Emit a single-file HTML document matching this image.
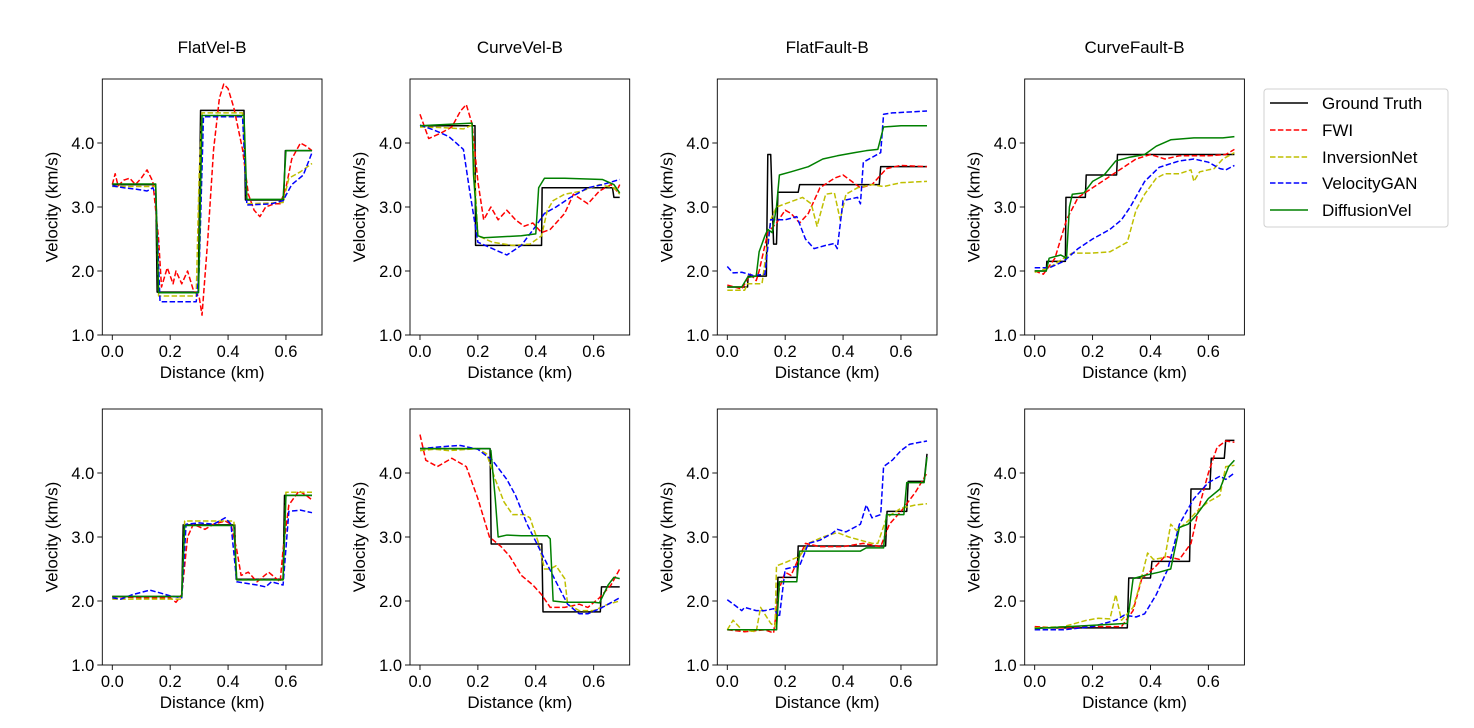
<!DOCTYPE html>
<html><head><meta charset="utf-8"><style>
body{margin:0;background:#fff;}
svg{display:block;font-family:"Liberation Sans","DejaVu Sans",sans-serif;}
</style></head><body>
<svg id="fig" width="1474" height="728" viewBox="0 0 1474 728" xmlns="http://www.w3.org/2000/svg">
<rect width="1474" height="728" fill="#fff"/>
<g id="legend">
<rect x="1264" y="89" width="184" height="138" rx="3" fill="#fff" stroke="#d0d0d0"/>
<line x1="1270" y1="103" x2="1308" y2="103" stroke="#000" stroke-width="1.5"/>
<text x="1322" y="109" font-size="17">Ground Truth</text>
<line x1="1270" y1="130" x2="1308" y2="130" stroke="#ff0000" stroke-width="1.5" stroke-dasharray="5.5,2.4"/>
<text x="1322" y="136" font-size="17">FWI</text>
<line x1="1270" y1="157" x2="1308" y2="157" stroke="#bfbf00" stroke-width="1.5" stroke-dasharray="5.5,2.4"/>
<text x="1322" y="163" font-size="17">InversionNet</text>
<line x1="1270" y1="183" x2="1308" y2="183" stroke="#0000ff" stroke-width="1.5" stroke-dasharray="5.5,2.4"/>
<text x="1322" y="189" font-size="17">VelocityGAN</text>
<line x1="1270" y1="210" x2="1308" y2="210" stroke="#008000" stroke-width="1.5"/>
<text x="1322" y="216" font-size="17">DiffusionVel</text>
</g>
</svg>
<script>
// ---- data (x in km, y in km/s) ----
const XTICKS = [0.0, 0.2, 0.4, 0.6];
const YTICKS = [1.0, 2.0, 3.0, 4.0];
const TITLES = ["FlatVel-B", "CurveVel-B", "FlatFault-B", "CurveFault-B"];

// Panel 1: FlatVel-B top
const P1_GT_X = [0,0.15,0.155,0.297,0.305,0.455,0.46,0.592,0.598,0.69];
const P1_GT_Y = [3.35,3.35,1.67,1.67,4.51,4.51,3.11,3.11,3.88,3.88];
const P1_FWI_X = [0,0.01,0.02,0.04,0.06,0.08,0.10,0.12,0.14,0.16,0.17,0.19,0.21,0.22,0.24,0.26,0.28,0.30,0.31,0.33,0.35,0.37,0.385,0.40,0.42,0.45,0.47,0.49,0.51,0.53,0.56,0.58,0.60,0.62,0.65,0.67,0.69];
const P1_FWI_Y = [3.35,3.52,3.33,3.42,3.45,3.35,3.45,3.58,3.4,2.5,1.75,2.05,1.8,2.0,1.8,2.0,1.7,1.6,1.31,2.5,3.9,4.7,4.92,4.85,4.55,3.9,3.2,2.95,2.85,3.0,3.05,3.05,3.3,3.75,4.0,3.95,3.88];
const P1_INV_X = [0,0.15,0.16,0.29,0.30,0.31,0.45,0.465,0.59,0.61,0.65,0.69];
const P1_INV_Y = [3.32,3.32,1.61,1.61,3.5,4.47,4.47,3.05,3.07,3.45,3.55,3.68];
const P1_GAN_X = [0,0.04,0.08,0.12,0.14,0.15,0.165,0.29,0.30,0.315,0.45,0.465,0.55,0.59,0.62,0.66,0.69];
const P1_GAN_Y = [3.33,3.3,3.28,3.25,3.3,3.2,1.52,1.52,2.0,4.41,4.41,3.03,3.05,3.1,3.35,3.5,3.85];
const P1_DIF_X = [0,0.15,0.16,0.298,0.31,0.455,0.465,0.59,0.60,0.69];
const P1_DIF_Y = [3.36,3.36,1.66,1.66,4.43,4.43,3.12,3.12,3.88,3.88];

// Panel 2: CurveVel-B top
const P2_GT_X = [0,0.19,0.192,0.42,0.422,0.665,0.67,0.69];
const P2_GT_Y = [4.27,4.27,2.40,2.40,3.30,3.30,3.15,3.15];
const P2_FWI_X = [0,0.03,0.07,0.11,0.14,0.16,0.18,0.20,0.22,0.245,0.27,0.30,0.33,0.36,0.39,0.42,0.45,0.50,0.53,0.58,0.62,0.66,0.68,0.69];
const P2_FWI_Y = [4.45,4.07,4.15,4.25,4.5,4.6,4.3,3.4,2.8,3.0,2.8,2.95,2.8,2.7,2.75,2.6,2.65,2.9,3.2,3.05,3.25,3.35,3.25,3.35];
const P2_INV_X = [0,0.08,0.15,0.18,0.19,0.20,0.25,0.32,0.38,0.42,0.44,0.46,0.50,0.56,0.62,0.67,0.69];
const P2_INV_Y = [4.25,4.24,4.22,4.28,3.4,2.55,2.45,2.4,2.42,2.55,2.95,3.1,3.2,3.25,3.35,3.3,3.2];
const P2_GAN_X = [0,0.05,0.10,0.15,0.17,0.20,0.25,0.30,0.35,0.40,0.43,0.47,0.52,0.58,0.63,0.69];
const P2_GAN_Y = [4.28,4.2,4.1,3.9,3.3,2.45,2.35,2.25,2.4,2.7,2.9,3.0,3.15,3.3,3.35,3.43];
const P2_DIF_X = [0,0.18,0.185,0.20,0.22,0.35,0.40,0.41,0.43,0.50,0.63,0.67,0.69];
const P2_DIF_Y = [4.27,4.31,3.5,2.55,2.52,2.55,2.58,3.3,3.45,3.45,3.43,3.35,3.22];

// Panel 3: FlatFault-B top
const P3_GT_X = [0,0.07,0.072,0.135,0.14,0.15,0.16,0.17,0.175,0.245,0.25,0.525,0.53,0.69];
const P3_GT_Y = [1.75,1.75,1.92,1.92,3.82,3.82,2.42,2.42,3.23,3.23,3.35,3.35,3.63,3.63];
const P3_FWI_X = [0,0.05,0.08,0.10,0.11,0.14,0.17,0.20,0.22,0.25,0.28,0.32,0.37,0.40,0.43,0.46,0.50,0.55,0.60,0.69];
const P3_FWI_Y = [1.78,1.72,1.95,1.85,2.0,2.6,2.75,2.95,2.9,2.75,2.9,3.3,3.45,3.5,3.4,3.3,3.35,3.6,3.65,3.63];
const P3_INV_X = [0,0.06,0.07,0.12,0.15,0.17,0.20,0.26,0.29,0.31,0.34,0.37,0.39,0.41,0.45,0.50,0.54,0.60,0.69];
const P3_INV_Y = [1.7,1.7,1.8,1.8,2.8,3.0,3.05,3.15,3.05,2.7,3.2,3.22,2.8,3.2,3.3,3.35,3.32,3.38,3.4];
const P3_GAN_X = [0,0.02,0.05,0.09,0.13,0.15,0.20,0.24,0.27,0.30,0.34,0.37,0.38,0.40,0.45,0.46,0.47,0.53,0.54,0.57,0.69];
const P3_GAN_Y = [2.07,1.97,1.98,1.93,1.95,2.8,2.8,2.85,2.5,2.35,2.4,2.43,2.35,3.1,3.15,3.05,3.7,3.85,4.45,4.47,4.5];
const P3_DIF_X = [0,0.05,0.07,0.10,0.11,0.13,0.14,0.155,0.17,0.18,0.22,0.28,0.33,0.38,0.44,0.48,0.52,0.54,0.60,0.69];
const P3_DIF_Y = [1.75,1.75,1.9,1.92,2.3,2.55,2.65,2.6,3.0,3.5,3.55,3.63,3.75,3.8,3.85,3.88,3.9,4.25,4.27,4.27];

// Panel 4: CurveFault-B top
const P4_GT_X = [0,0.04,0.042,0.106,0.108,0.175,0.178,0.283,0.286,0.69];
const P4_GT_Y = [2.0,2.0,2.15,2.15,3.15,3.15,3.5,3.5,3.82,3.82];
const P4_FWI_X = [0,0.03,0.07,0.11,0.15,0.20,0.25,0.30,0.35,0.40,0.45,0.50,0.60,0.66,0.69];
const P4_FWI_Y = [2.0,1.95,2.2,2.8,3.15,3.3,3.45,3.6,3.75,3.82,3.75,3.8,3.8,3.82,3.9];
const P4_INV_X = [0,0.05,0.10,0.13,0.20,0.26,0.32,0.35,0.38,0.42,0.45,0.50,0.54,0.55,0.57,0.62,0.65,0.69];
const P4_INV_Y = [1.98,2.05,2.2,2.28,2.28,2.3,2.45,2.95,3.2,3.45,3.52,3.52,3.58,3.4,3.55,3.6,3.75,3.85];
const P4_GAN_X = [0,0.05,0.10,0.15,0.20,0.26,0.30,0.33,0.38,0.43,0.50,0.55,0.60,0.64,0.66,0.69];
const P4_GAN_Y = [2.05,2.05,2.15,2.35,2.5,2.65,2.8,3.0,3.4,3.62,3.72,3.75,3.7,3.6,3.58,3.65];
const P4_DIF_X = [0,0.04,0.05,0.09,0.11,0.12,0.13,0.17,0.20,0.24,0.28,0.33,0.38,0.42,0.47,0.55,0.65,0.69];
const P4_DIF_Y = [2.0,2.0,2.2,2.25,2.2,3.0,3.2,3.22,3.4,3.5,3.72,3.78,3.82,3.95,4.05,4.08,4.08,4.1];

// Panel 5: FlatVel-B bottom
const P5_GT_X = [0,0.24,0.245,0.423,0.428,0.59,0.595,0.69];
const P5_GT_Y = [2.07,2.07,3.19,3.19,2.34,2.34,3.65,3.65];
const P5_FWI_X = [0,0.10,0.20,0.22,0.24,0.26,0.28,0.32,0.35,0.39,0.41,0.43,0.445,0.47,0.50,0.54,0.58,0.59,0.61,0.645,0.67,0.69];
const P5_FWI_Y = [2.07,2.05,2.05,1.98,2.1,3.0,3.2,3.12,3.2,3.25,3.2,2.8,2.4,2.45,2.3,2.45,2.3,2.8,3.5,3.72,3.65,3.58];
const P5_INV_X = [0,0.24,0.25,0.42,0.43,0.59,0.60,0.69];
const P5_INV_Y = [2.03,2.03,3.25,3.25,2.33,2.33,3.7,3.7];
const P5_GAN_X = [0,0.03,0.07,0.13,0.17,0.20,0.24,0.255,0.30,0.35,0.39,0.41,0.43,0.50,0.53,0.55,0.59,0.61,0.65,0.69];
const P5_GAN_Y = [2.05,2.03,2.1,2.17,2.12,2.08,2.05,3.2,3.22,3.2,3.3,3.2,2.3,2.25,2.22,2.3,2.25,3.4,3.42,3.38];
const P5_DIF_X = [0,0.24,0.25,0.42,0.43,0.59,0.60,0.69];
const P5_DIF_Y = [2.07,2.07,3.18,3.18,2.33,2.33,3.65,3.65];

// Panel 6: CurveVel-B bottom
const P6_GT_X = [0,0.242,0.246,0.421,0.425,0.623,0.627,0.69];
const P6_GT_Y = [4.38,4.38,2.89,2.89,1.83,1.83,2.22,2.22];
const P6_FWI_X = [0,0.02,0.06,0.11,0.16,0.20,0.24,0.28,0.31,0.35,0.39,0.42,0.45,0.50,0.55,0.58,0.62,0.66,0.69];
const P6_FWI_Y = [4.6,4.2,4.1,4.23,4.1,3.6,3.0,2.85,2.7,2.4,2.25,2.1,1.9,1.9,1.95,1.9,2.05,2.25,2.5];
const P6_INV_X = [0,0.05,0.10,0.20,0.23,0.26,0.29,0.32,0.36,0.38,0.41,0.43,0.45,0.47,0.50,0.51,0.55,0.60,0.65,0.69];
const P6_INV_Y = [4.35,4.37,4.35,4.38,4.3,3.9,3.55,3.35,3.35,3.3,2.9,2.5,2.5,2.55,2.35,1.95,1.85,1.85,1.95,2.0];
const P6_GAN_X = [0,0.10,0.14,0.20,0.25,0.30,0.33,0.37,0.42,0.47,0.51,0.55,0.58,0.63,0.69];
const P6_GAN_Y = [4.38,4.42,4.43,4.37,4.2,3.9,3.65,3.2,2.75,2.3,1.95,1.8,1.8,1.9,2.05];
const P6_DIF_X = [0,0.24,0.245,0.26,0.27,0.30,0.35,0.44,0.45,0.46,0.50,0.60,0.62,0.65,0.67,0.69];
const P6_DIF_Y = [4.38,4.38,4.35,3.6,3.0,3.03,3.02,3.02,2.97,2.0,1.98,1.98,1.97,2.25,2.37,2.35];

// Panel 7: FlatFault-B bottom
const P7_GT_X = [0,0.17,0.175,0.241,0.245,0.547,0.552,0.62,0.625,0.68,0.69];
const P7_GT_Y = [1.55,1.55,2.37,2.37,2.86,2.86,3.4,3.4,3.87,3.87,4.3];
const P7_FWI_X = [0,0.06,0.13,0.16,0.18,0.20,0.22,0.27,0.32,0.40,0.47,0.53,0.56,0.60,0.65,0.69];
const P7_FWI_Y = [1.55,1.52,1.55,1.5,2.2,2.45,2.4,2.9,2.85,2.85,2.9,2.85,3.2,3.4,3.7,4.0];
const P7_INV_X = [0,0.02,0.05,0.10,0.115,0.15,0.165,0.17,0.20,0.25,0.28,0.33,0.38,0.42,0.50,0.52,0.55,0.60,0.65,0.69];
const P7_INV_Y = [1.55,1.7,1.55,1.52,1.9,1.65,1.6,2.55,2.6,2.7,2.9,3.0,3.07,3.0,2.9,2.9,3.3,3.45,3.5,3.52];
const P7_GAN_X = [0,0.03,0.05,0.06,0.10,0.13,0.16,0.18,0.20,0.25,0.28,0.32,0.36,0.38,0.41,0.46,0.48,0.50,0.53,0.54,0.57,0.60,0.63,0.69];
const P7_GAN_Y = [2.02,1.92,1.85,1.9,1.85,1.85,1.88,1.75,2.5,2.55,2.9,2.95,3.05,3.12,3.08,3.2,3.5,3.3,3.35,4.1,4.2,4.35,4.45,4.5];
const P7_DIF_X = [0,0.17,0.18,0.24,0.25,0.30,0.46,0.48,0.54,0.55,0.61,0.62,0.68,0.69];
const P7_DIF_Y = [1.55,1.55,2.3,2.3,2.78,2.78,2.78,2.83,2.83,3.35,3.35,3.85,3.85,4.25];

// Panel 8: CurveFault-B bottom
const P8_GT_X = [0,0.32,0.325,0.40,0.405,0.535,0.54,0.605,0.61,0.655,0.66,0.69];
const P8_GT_Y = [1.58,1.58,2.36,2.36,2.62,2.62,3.75,3.75,4.23,4.23,4.51,4.51];
const P8_FWI_X = [0,0.10,0.20,0.30,0.34,0.37,0.42,0.45,0.50,0.54,0.57,0.60,0.63,0.66,0.69];
const P8_FWI_Y = [1.6,1.58,1.6,1.6,1.85,2.35,2.55,2.7,2.65,2.9,3.5,4.0,4.4,4.5,4.48];
const P8_INV_X = [0,0.10,0.18,0.22,0.26,0.28,0.30,0.34,0.36,0.39,0.41,0.45,0.47,0.49,0.53,0.56,0.60,0.64,0.66,0.69];
const P8_INV_Y = [1.58,1.6,1.7,1.73,1.72,2.1,1.7,1.9,2.2,2.75,2.65,2.68,3.2,3.1,3.25,3.4,3.55,3.65,4.1,4.12];
const P8_GAN_X = [0,0.10,0.20,0.28,0.31,0.35,0.38,0.42,0.46,0.50,0.55,0.60,0.64,0.66,0.69];
const P8_GAN_Y = [1.55,1.55,1.6,1.7,1.78,1.75,1.8,2.1,2.5,3.2,3.6,3.85,3.95,3.9,4.0];
const P8_DIF_X = [0,0.32,0.34,0.38,0.43,0.47,0.50,0.53,0.56,0.60,0.64,0.67,0.69];
const P8_DIF_Y = [1.57,1.65,2.35,2.4,2.45,2.5,3.15,3.2,3.35,3.6,3.75,4.1,4.2];

const PANELS = [
 [P1_GT_X,P1_GT_Y,P1_FWI_X,P1_FWI_Y,P1_INV_X,P1_INV_Y,P1_GAN_X,P1_GAN_Y,P1_DIF_X,P1_DIF_Y],
 [P2_GT_X,P2_GT_Y,P2_FWI_X,P2_FWI_Y,P2_INV_X,P2_INV_Y,P2_GAN_X,P2_GAN_Y,P2_DIF_X,P2_DIF_Y],
 [P3_GT_X,P3_GT_Y,P3_FWI_X,P3_FWI_Y,P3_INV_X,P3_INV_Y,P3_GAN_X,P3_GAN_Y,P3_DIF_X,P3_DIF_Y],
 [P4_GT_X,P4_GT_Y,P4_FWI_X,P4_FWI_Y,P4_INV_X,P4_INV_Y,P4_GAN_X,P4_GAN_Y,P4_DIF_X,P4_DIF_Y],
 [P5_GT_X,P5_GT_Y,P5_FWI_X,P5_FWI_Y,P5_INV_X,P5_INV_Y,P5_GAN_X,P5_GAN_Y,P5_DIF_X,P5_DIF_Y],
 [P6_GT_X,P6_GT_Y,P6_FWI_X,P6_FWI_Y,P6_INV_X,P6_INV_Y,P6_GAN_X,P6_GAN_Y,P6_DIF_X,P6_DIF_Y],
 [P7_GT_X,P7_GT_Y,P7_FWI_X,P7_FWI_Y,P7_INV_X,P7_INV_Y,P7_GAN_X,P7_GAN_Y,P7_DIF_X,P7_DIF_Y],
 [P8_GT_X,P8_GT_Y,P8_FWI_X,P8_FWI_Y,P8_INV_X,P8_INV_Y,P8_GAN_X,P8_GAN_Y,P8_DIF_X,P8_DIF_Y]
];
const SERIES_NAMES = ["ground-truth","fwi","inversionnet","velocitygan","diffusionvel"];
const COLORS = ["#000000","#ff0000","#bfbf00","#0000ff","#008000"];
const DASHED = [false,true,true,true,false];

// ---- layout ----
const NS = "http://www.w3.org/2000/svg";
const svg = document.getElementById("fig");
const LEFTS = [102.3, 410, 717.3, 1024.7];
const TOPS = [79, 409];
const W = 219.7, H = 256;
const XMIN = -0.0345, XMAX = 0.7245, YMIN = 1, YMAX = 5;

function mk(tag, attrs, parent){
  const e = document.createElementNS(NS, tag);
  for (const k in attrs) e.setAttribute(k, attrs[k]);
  parent.appendChild(e);
  return e;
}

for (let p = 0; p < 8; p++){
  const col = p % 4, row = Math.floor(p / 4);
  const L = LEFTS[col], T = TOPS[row];
  const sx = d => L + (d - XMIN) / (XMAX - XMIN) * W;
  const sy = v => T + H - (v - YMIN) / (YMAX - YMIN) * H;
  const g = mk("g", {}, svg);
  
  
  const clipId = "clip" + p;
  const cp = mk("clipPath", {id: clipId}, g);
  mk("rect", {x: L, y: T, width: W, height: H}, cp);

  const series = PANELS[p];
  const lg = mk("g", {"clip-path": "url(#" + clipId + ")"}, g);
  for (let s = 0; s < 5; s++){
    const xs = series[2*s], ys = series[2*s+1];
    let d = "";
    for (let i = 0; i < xs.length; i++) d += (i ? "L" : "M") + sx(xs[i]).toFixed(2) + "," + sy(ys[i]).toFixed(2);
    const path = mk("path", {d: d, fill: "none", stroke: COLORS[s], "stroke-width": 1.5, "stroke-linejoin": "round"}, lg);
    if (DASHED[s]) path.setAttribute("stroke-dasharray", "5.5,2.4");
    
    
  }
  const frame = mk("rect", {x: L, y: T, width: W, height: H, fill: "none", stroke: "#000", "stroke-width": 0.9}, g);
  
  

  for (const t of XTICKS){
    const x = sx(t);
    mk("line", {x1: x, y1: T+H, x2: x, y2: T+H+5, stroke: "#000", "stroke-width": 0.9}, g);
    const tx = mk("text", {x: x, y: T+H+22, "font-size": 16.5, "text-anchor": "middle"}, g);
    tx.textContent = t.toFixed(1);
    
    
  }
  for (const t of YTICKS){
    const y = sy(t);
    mk("line", {x1: L-5, y1: y, x2: L, y2: y, stroke: "#000", "stroke-width": 0.9}, g);
    const ty = mk("text", {x: L-8, y: y+6, "font-size": 16.5, "text-anchor": "end"}, g);
    ty.textContent = t.toFixed(1);
    
    
  }
  const xl = mk("text", {x: L + W/2, y: T+H+43, "font-size": 17, "text-anchor": "middle"}, g);
  xl.textContent = "Distance (km)";
  
  
  const yx = L - 45, yy = T + H/2;
  const yl = mk("text", {x: yx, y: yy, "font-size": 17, "text-anchor": "middle", transform: "rotate(-90 " + yx + " " + yy + ")"}, g);
  yl.textContent = "Velocity (km/s)";
  
  
  if (row === 0){
    const tt = mk("text", {x: L + W/2, y: 53, "font-size": 17, "text-anchor": "middle"}, g);
    tt.textContent = TITLES[col];
    
    
  }
}
svg.appendChild(document.getElementById("legend"));
</script>
</body></html>
